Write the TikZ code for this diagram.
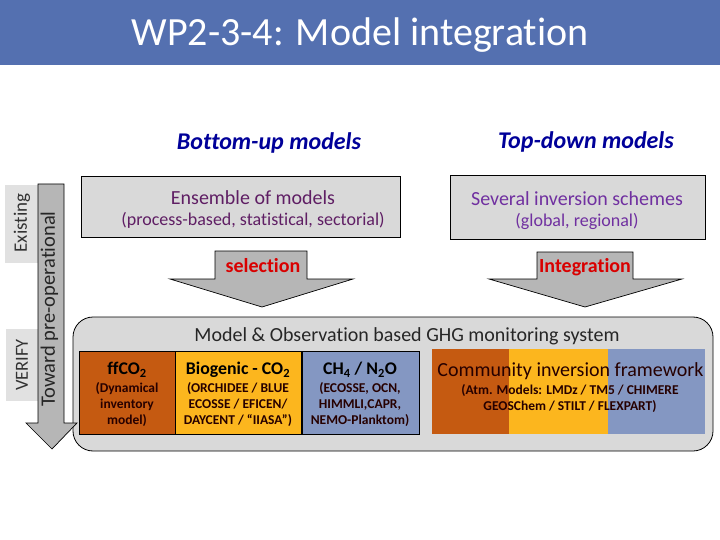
\documentclass[tikz,border=0pt]{standalone}
\usepackage{fontspec}
\setmainfont{Carlito}[Ligatures=NoCommon]
\definecolor{banner}{RGB}{84,112,176}
\definecolor{panelgray}{RGB}{217,217,217}
\definecolor{arrowgray}{RGB}{182,182,182}
\definecolor{tagorange}{RGB}{197,90,17}
\definecolor{tagyellow}{RGB}{252,182,30}
\definecolor{tagblue}{RGB}{132,151,194}
\definecolor{headblue}{RGB}{0,0,153}
\definecolor{plum}{RGB}{95,30,100}
\definecolor{violet}{RGB}{112,48,160}
\tikzset{
  txt/.style={inner sep=0pt, align=center},
  panel/.style={draw=black, fill=panelgray, line width=.8pt},
  fatarrow/.style={draw=black, fill=arrowgray, line width=.7pt},
  tag/.style={draw=black, line width=.8pt},
  sub/.style={txt, font=\fontsize{13.5}{16.3}\selectfont\bfseries, text=black!85!red},
  head/.style={txt, font=\fontsize{17.8}{20}\selectfont\bfseries}
}
\begin{document}
\begin{tikzpicture}[x=1pt, y=-1pt]
  \useasboundingbox (0,0) rectangle (720,540);
  \fill[banner] (0,0) rectangle (720,65);
  \node[txt, text=white, font=\fontsize{40}{44}\selectfont] (title) at (360,35) {WP2-3-4: Model integration};

  \node[txt, text=headblue, font=\fontsize{24}{28}\selectfont\bfseries\itshape] (bottomup) at (269,143) {Bottom-up models};
  \node[txt, text=headblue, font=\fontsize{24}{28}\selectfont\bfseries\itshape] (topdown) at (586,142) {Top-down models};

  \node[panel, minimum width=319pt, minimum height=61pt] (ensemble) at (240.5,206.5) {};
  \node[panel, minimum width=255pt, minimum height=64pt] (schemes) at (577.5,207) {};
  \node[txt, text=plum, font=\fontsize{20}{22}\selectfont] (ensembletxt) at (253,198) {Ensemble of models};
  \node[txt, text=plum, font=\fontsize{18}{20}\selectfont] (processtxt) at (253,220) {(process-based, statistical, sectorial)};
  \node[txt, text=violet, font=\fontsize{20}{22}\selectfont] (schemestxt) at (577,199) {Several inversion schemes};
  \node[txt, text=violet, font=\fontsize{18}{20}\selectfont] (globaltxt) at (577,221) {(global, regional)};

  \draw[fatarrow] (215,251) -- (307,251) -- (307,279) -- (353,279) -- (262,307) -- (170,279) -- (215,279) -- cycle;
  \draw[fatarrow] (537,252) -- (633,252) -- (633,279) -- (682,279) -- (585,307) -- (489,279) -- (537,279) -- cycle;
  \node[txt, text=red!85!black, font=\fontsize{20}{22}\selectfont\bfseries] (selection) at (263,266) {selection};
  \node[txt, text=red!85!black, font=\fontsize{20}{22}\selectfont\bfseries] (integration) at (585,267.5) {Integration};

  \node[fill=panelgray!80!white, minimum width=33pt, minimum height=78pt] (existingbg) at (21.5,224) {};
  \node[fill=panelgray!80!white, minimum width=32pt, minimum height=72pt] (verifybg) at (22,365) {};

  \draw[panel] (93,317) -- (693,317) arc[start angle=-90, end angle=0, radius=20] -- (713,431)
    arc[start angle=0, end angle=90, radius=20] -- (93,451) arc[start angle=90, end angle=180, radius=20]
    -- (73,337) arc[start angle=180, end angle=270, radius=20] -- cycle;
  \draw[fatarrow] (38,184) -- (64,184) -- (64,423) -- (77,423) -- (52,449) -- (26,423) -- (38,423) -- cycle;

  \node[txt, rotate=90, text=black!80, font=\fontsize{19}{22}\selectfont] (existing) at (22,223) {Existing};
  \node[txt, rotate=90, text=black!80, font=\fontsize{18.5}{22}\selectfont] (verify) at (22,365) {VERIFY};
  \node[txt, rotate=90, text=black!85, font=\fontsize{20.5}{22}\selectfont] (toward) at (49.5,309) {Toward pre-operational};

  \node[txt, text=black!85, font=\fontsize{20}{22}\selectfont] (system) at (407,336) {Model \& Observation based GHG monitoring system};

  \node[tag, fill=tagorange, minimum width=96pt, minimum height=83pt] (ff) at (127,392.5) {};
  \node[tag, fill=tagyellow, minimum width=126pt, minimum height=83pt] (bio) at (238,392.5) {};
  \node[tag, fill=tagblue, minimum width=117pt, minimum height=83pt] (ch) at (360.5,392.5) {};
  \node[head] (fftxt) at (127,370) {ffCO\textsubscript{2}};
  \node[head] (biotxt) at (238,370) {Biogenic - CO\textsubscript{2}};
  \node[head] (chtxt) at (360,370) {CH\textsubscript{4} / N\textsubscript{2}O};
  \node[sub] (ffsub) at (127,404.5) {(Dynamical\\inventory\\model)};
  \node[sub] (biosub) at (238,404.5) {(ORCHIDEE / BLUE\\ECOSSE / EFICEN/\\DAYCENT / “IIASA”)};
  \node[sub] (chsub) at (360,404.5) {(ECOSSE, OCN,\\HIMMLI,CAPR,\\NEMO-Planktom)};

  \fill[tagorange] (432,349) rectangle (509,434);
  \fill[tagyellow] (509,349) rectangle (608,434);
  \fill[tagblue] (608,349) rectangle (705,434);
  \node[txt, text=black!85!red, font=\fontsize{20}{24}\selectfont] (community) at (570.5,371) {Community inversion framework};
  \node[sub] (atm) at (570,398.5) {(Atm. Models: LMDz / TM5 / CHIMERE\\GEOSChem / STILT / FLEXPART)};
\end{tikzpicture}
\end{document}
